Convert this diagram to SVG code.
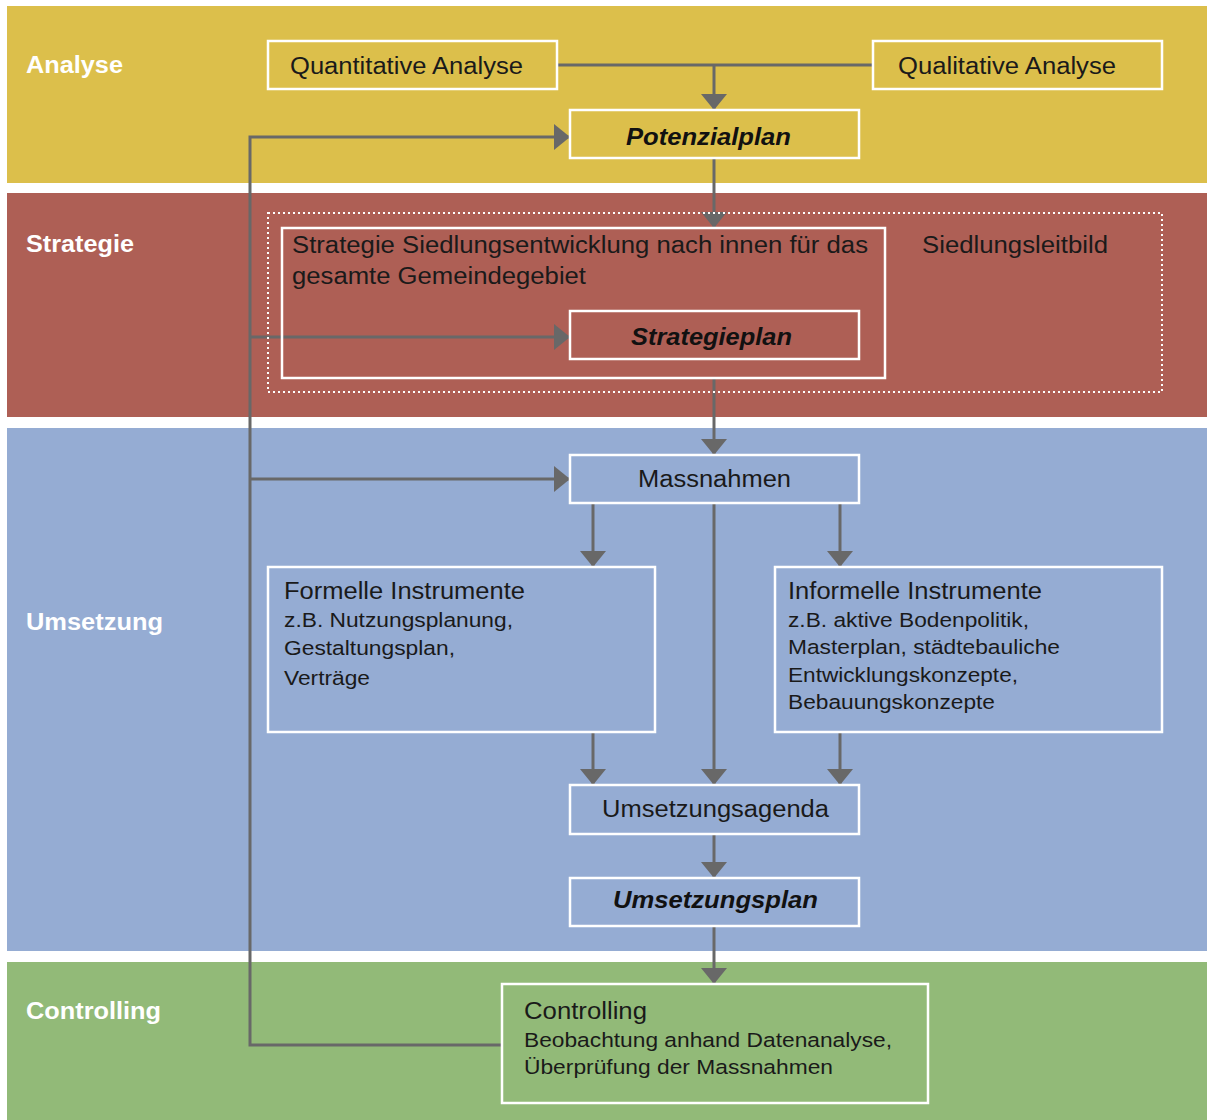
<svg xmlns="http://www.w3.org/2000/svg" width="1207" height="1120" viewBox="0 0 1207 1120">
<style>
.band-label{font-family:"Liberation Sans",Arial,sans-serif;font-weight:bold;font-size:23px;fill:#ffffff}
.box{fill:none;stroke:#ffffff;stroke-width:2.5}
.t{font-family:"Liberation Sans",Arial,sans-serif;font-size:23px;fill:#1a1a1a}
.ts{font-family:"Liberation Sans",Arial,sans-serif;font-size:20.5px;fill:#1a1a1a}
.tb{font-family:"Liberation Sans",Arial,sans-serif;font-size:23px;font-weight:bold;font-style:italic;fill:#111111}
.c{fill:none;stroke:#686868;stroke-width:3}
</style>
<defs>
<marker id="ah" markerUnits="userSpaceOnUse" markerWidth="18" markerHeight="26" refX="16" refY="13" orient="auto">
<path d="M0,0 L16,13 L0,26 Z" fill="#686868"/>
</marker>
</defs>
<rect width="1207" height="1120" fill="#ffffff"/>
<g id="bands">
<rect x="7" y="6" width="1200" height="177" fill="#DCBF4B"/>
<rect x="7" y="193" width="1200" height="224" fill="#AE5F55"/>
<rect x="7" y="428" width="1200" height="523" fill="#95ACD3"/>
<rect x="7" y="962" width="1200" height="158" fill="#92BA78"/>
<text class="band-label" x="26" y="73" textLength="97" lengthAdjust="spacingAndGlyphs">Analyse</text>
<text class="band-label" x="26" y="252" textLength="108" lengthAdjust="spacingAndGlyphs">Strategie</text>
<text class="band-label" x="26" y="630" textLength="137" lengthAdjust="spacingAndGlyphs">Umsetzung</text>
<text class="band-label" x="26" y="1019" textLength="135" lengthAdjust="spacingAndGlyphs">Controlling</text>
</g>
<g id="connectors">
<path class="c" d="M557,65 H873"/>
<path class="c" d="M714,65 V110" marker-end="url(#ah)"/>
<path class="c" d="M714,158 V228" marker-end="url(#ah)"/>
<path class="c" d="M714,378 V455" marker-end="url(#ah)"/>
<path class="c" d="M593,503 V567" marker-end="url(#ah)"/>
<path class="c" d="M840,503 V567" marker-end="url(#ah)"/>
<path class="c" d="M714,503 V785" marker-end="url(#ah)"/>
<path class="c" d="M593,732 V785" marker-end="url(#ah)"/>
<path class="c" d="M840,732 V785" marker-end="url(#ah)"/>
<path class="c" d="M714,834 V878" marker-end="url(#ah)"/>
<path class="c" d="M714,926 V984" marker-end="url(#ah)"/>
<path class="c" d="M502,1045 H250 V137 H570" marker-end="url(#ah)"/>
<path class="c" d="M250,337 H570" marker-end="url(#ah)"/>
<path class="c" d="M250,479 H570" marker-end="url(#ah)"/>
</g>
<g id="quantitative">
<rect class="box" x="268" y="41" width="289" height="48"/>
<text class="t" x="290" y="74" textLength="233" lengthAdjust="spacingAndGlyphs">Quantitative Analyse</text>
</g>
<g id="qualitative">
<rect class="box" x="873" y="41" width="289" height="48"/>
<text class="t" x="898" y="74" textLength="218" lengthAdjust="spacingAndGlyphs">Qualitative Analyse</text>
</g>
<g id="potenzialplan">
<rect class="box" x="570" y="110" width="289" height="48"/>
<text class="tb" x="626" y="145" textLength="165" lengthAdjust="spacingAndGlyphs">Potenzialplan</text>
</g>
<g id="siedlungsleitbild">
<rect x="268" y="213" width="894" height="179" fill="none" stroke="#ffffff" stroke-width="2" stroke-dasharray="2,3"/>
<text class="t" x="922" y="253" textLength="186" lengthAdjust="spacingAndGlyphs">Siedlungsleitbild</text>
</g>
<g id="strategie">
<rect class="box" x="282" y="228" width="603" height="150"/>
<text class="t" x="292" y="253" textLength="576" lengthAdjust="spacingAndGlyphs">Strategie Siedlungsentwicklung nach innen für das</text>
<text class="t" x="292" y="284" textLength="294" lengthAdjust="spacingAndGlyphs">gesamte Gemeindegebiet</text>
</g>
<g id="strategieplan">
<rect class="box" x="570" y="311" width="289" height="48"/>
<text class="tb" x="631" y="345" textLength="161" lengthAdjust="spacingAndGlyphs">Strategieplan</text>
</g>
<g id="massnahmen">
<rect class="box" x="570" y="455" width="289" height="48"/>
<text class="t" x="638" y="487" textLength="153" lengthAdjust="spacingAndGlyphs">Massnahmen</text>
</g>
<g id="formelle">
<rect class="box" x="268" y="567" width="387" height="165"/>
<text class="t" x="284" y="599" textLength="241" lengthAdjust="spacingAndGlyphs">Formelle Instrumente</text>
<text class="ts" x="284" y="627" textLength="229" lengthAdjust="spacingAndGlyphs">z.B. Nutzungsplanung,</text>
<text class="ts" x="284" y="655" textLength="171" lengthAdjust="spacingAndGlyphs">Gestaltungsplan,</text>
<text class="ts" x="284" y="685" textLength="86" lengthAdjust="spacingAndGlyphs">Verträge</text>
</g>
<g id="informelle">
<rect class="box" x="775" y="567" width="387" height="165"/>
<text class="t" x="788" y="599" textLength="254" lengthAdjust="spacingAndGlyphs">Informelle Instrumente</text>
<text class="ts" x="788" y="627" textLength="241" lengthAdjust="spacingAndGlyphs">z.B. aktive Bodenpolitik,</text>
<text class="ts" x="788" y="654" textLength="272" lengthAdjust="spacingAndGlyphs">Masterplan, städtebauliche</text>
<text class="ts" x="788" y="682" textLength="230" lengthAdjust="spacingAndGlyphs">Entwicklungskonzepte,</text>
<text class="ts" x="788" y="709" textLength="207" lengthAdjust="spacingAndGlyphs">Bebauungskonzepte</text>
</g>
<g id="umsetzungsagenda">
<rect class="box" x="570" y="785" width="289" height="49"/>
<text class="t" x="602" y="817" textLength="227" lengthAdjust="spacingAndGlyphs">Umsetzungsagenda</text>
</g>
<g id="umsetzungsplan">
<rect class="box" x="570" y="878" width="289" height="48"/>
<text class="tb" x="613" y="908" textLength="205" lengthAdjust="spacingAndGlyphs">Umsetzungsplan</text>
</g>
<g id="controlling">
<rect class="box" x="502" y="984" width="426" height="119"/>
<text class="t" x="524" y="1019" textLength="123" lengthAdjust="spacingAndGlyphs">Controlling</text>
<text class="ts" x="524" y="1047" textLength="368" lengthAdjust="spacingAndGlyphs">Beobachtung anhand Datenanalyse,</text>
<text class="ts" x="524" y="1074" textLength="309" lengthAdjust="spacingAndGlyphs">Überprüfung der Massnahmen</text>
</g>
</svg>
